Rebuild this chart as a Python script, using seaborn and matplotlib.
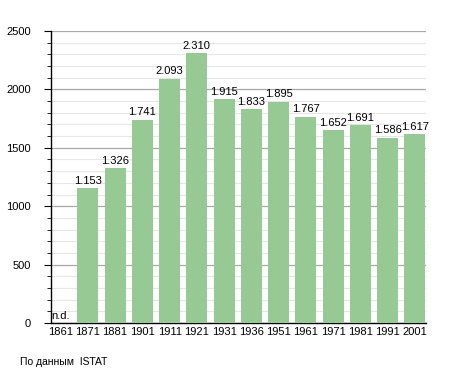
import matplotlib
matplotlib.use("Agg")
import matplotlib.pyplot as plt
import seaborn as sns
import pandas as pd
import numpy as np
from matplotlib.ticker import MultipleLocator

years = ["1861", "1871", "1881", "1901", "1911", "1921", "1931", "1936",
         "1951", "1961", "1971", "1981", "1991", "2001"]
population = [np.nan, 1153, 1326, 1741, 2093, 2310, 1915, 1833,
              1895, 1767, 1652, 1691, 1586, 1617]
labels = ["n.d.", "1.153", "1.326", "1.741", "2.093", "2.310", "1.915", "1.833",
          "1.895", "1.767", "1.652", "1.691", "1.586", "1.617"]
source_text = "По данным  ISTAT"

sns.set_style("white")
plt.rcParams['font.family'] = ['Liberation Sans', 'DejaVu Sans']
plt.rcParams['text.color'] = 'black'
plt.rcParams['xtick.color'] = 'black'
plt.rcParams['ytick.color'] = 'black'

df = pd.DataFrame({"year": years, "pop": population})

fig = plt.figure(figsize=(4.55, 3.73), dpi=100)
ax = fig.add_axes([50.5 / 455, 1 - 323 / 373, 375 / 455, 292 / 373])

sns.barplot(data=df, x="year", y="pop", color="#97c994", saturation=1,
            width=0.77, linewidth=0, ax=ax, zorder=3)

ax.set_ylim(0, 2500)
ax.set_xlim(-0.37, len(years) - 1 + 0.39)
ax.yaxis.set_major_locator(MultipleLocator(500))
ax.yaxis.set_minor_locator(MultipleLocator(100))
ax.grid(which="major", axis="y", color="#a8a8a8", linewidth=0.9, zorder=0)
ax.grid(which="minor", axis="y", color="#e6e6e6", linewidth=0.8, zorder=0)
ax.set_axisbelow(True)

for s in ["top", "right"]:
    ax.spines[s].set_visible(False)
ax.spines["left"].set_color("black")
ax.spines["bottom"].set_color("black")
ax.spines["left"].set_linewidth(1.0)
ax.spines["bottom"].set_linewidth(1.0)

ax.tick_params(axis="y", which="major", left=True, length=5, width=0.8,
               labelsize=8, pad=9, colors="black")
ax.tick_params(axis="y", which="minor", left=True, length=3, width=0.6, colors="black")
ax.tick_params(axis="x", bottom=False, length=0, labelsize=8, pad=3, colors="black")
ax.set_xlabel("")
ax.set_ylabel("")

for i, (v, lab) in enumerate(zip(population, labels)):
    if np.isnan(v):
        ax.text(i, 15, lab, ha="center", va="bottom", fontsize=8, zorder=5, color="black")
    else:
        ax.text(i, v + 20, lab, ha="center", va="bottom", fontsize=8, zorder=5, color="black")

fig.text(20 / 455, 1 - 362 / 373, source_text, fontsize=7.5, va="center", ha="left",
         color="black")

fig.savefig("out.png", dpi=100)
